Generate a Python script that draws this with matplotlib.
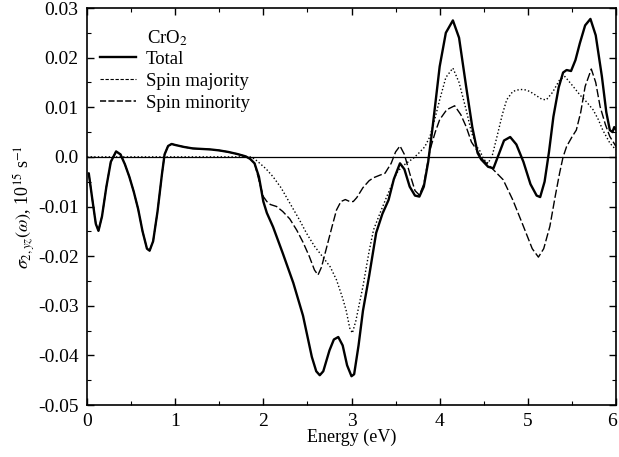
import matplotlib
matplotlib.use("Agg")
import matplotlib.pyplot as plt
from matplotlib.ticker import MultipleLocator, FuncFormatter
from matplotlib.lines import Line2D
from matplotlib.transforms import ScaledTranslation

plt.rcParams['font.family'] = ['Liberation Serif', 'DejaVu Serif']
plt.rcParams['mathtext.fontset'] = 'stix'
plt.rcParams['axes.unicode_minus'] = False

# Total
e_total = [0.02, 0.06, 0.10, 0.13, 0.17, 0.22, 0.27, 0.33, 0.38, 0.43, 0.48, 0.53, 0.58, 0.63,
           0.68, 0.71, 0.75, 0.80, 0.85, 0.88, 0.92, 0.96, 1.00, 1.1, 1.2, 1.3, 1.4, 1.5, 1.6,
           1.7, 1.8, 1.85, 1.9, 1.95, 2.0, 2.04, 2.11, 2.22, 2.34, 2.45, 2.55, 2.60, 2.64, 2.68,
           2.75, 2.80, 2.85, 2.90, 2.95, 3.00, 3.03, 3.08, 3.13, 3.20, 3.28, 3.35, 3.42, 3.48,
           3.55, 3.60, 3.66, 3.72, 3.77, 3.82, 3.87, 3.92, 4.00, 4.07, 4.15, 4.22, 4.30, 4.37,
           4.43, 4.47, 4.55, 4.61, 4.67, 4.73, 4.80, 4.87, 4.95, 5.03, 5.10, 5.14, 5.19, 5.24,
           5.29, 5.35, 5.40, 5.44, 5.49, 5.54, 5.59, 5.65, 5.71, 5.77, 5.84, 5.89, 5.93, 5.96,
           5.98, 6.00]
s_total = [-0.0033, -0.0085, -0.0135, -0.0149, -0.0120, -0.0060, -0.0010, 0.0011, 0.0005, -0.0015,
           -0.0040, -0.0070, -0.0105, -0.0150, -0.0185, -0.0189, -0.0170, -0.0110, -0.0035, 0.0005,
           0.0022, 0.0026, 0.0024, 0.0020, 0.0017, 0.0016, 0.0015, 0.0013, 0.0010, 0.0006, 0.0001,
           -0.0004, -0.0013, -0.0040, -0.0090, -0.0113, -0.0141, -0.0194, -0.0254, -0.0320, -0.0403,
           -0.0432, -0.0440, -0.0432, -0.0390, -0.0368, -0.0363, -0.0380, -0.0420, -0.0442, -0.0438,
           -0.0380, -0.0310, -0.0240, -0.0153, -0.0115, -0.0087, -0.0045, -0.0013, -0.0025, -0.0060,
           -0.0078, -0.0080, -0.0060, -0.0010, 0.0060, 0.0182, 0.0250, 0.0275, 0.0240, 0.0142,
           0.0060, 0.0008, -0.0005, -0.0020, -0.0023, 0.0005, 0.0033, 0.0040, 0.0025, -0.0010,
           -0.0055, -0.0078, -0.0081, -0.0050, 0.0010, 0.0081, 0.0140, 0.0170, 0.0175, 0.0173,
           0.0195, 0.0229, 0.0265, 0.0278, 0.0245, 0.0162, 0.0090, 0.0054, 0.0050, 0.0060, 0.0055]

# Spin majority (dotted)
e_major = [0.00, 0.5, 1.0, 1.5, 1.85, 1.90, 1.96, 2.03, 2.11, 2.20, 2.30, 2.41, 2.49, 2.58, 2.68,
           2.76, 2.83, 2.90, 2.94, 2.98, 3.01, 3.05, 3.09, 3.13, 3.20, 3.25, 3.32, 3.40, 3.46,
           3.51, 3.57, 3.62, 3.70, 3.76, 3.83, 3.89, 3.95, 4.00, 4.07, 4.15, 4.22, 4.30, 4.36,
           4.42, 4.46, 4.50, 4.55, 4.60, 4.66, 4.71, 4.76, 4.83, 4.91, 4.97, 5.02, 5.10, 5.16,
           5.21, 5.28, 5.36, 5.42, 5.50, 5.59, 5.67, 5.74, 5.80, 5.85, 5.93, 6.00]
s_major = [0.0, 0.0, 0.0, 0.0, 0.0, -0.0004, -0.0013, -0.0024, -0.0040, -0.0062, -0.0093, -0.0127,
           -0.0154, -0.0180, -0.0203, -0.0222, -0.0248, -0.0285, -0.0310, -0.0345, -0.0355, -0.0330,
           -0.0295, -0.0261, -0.0190, -0.0147, -0.0115, -0.0080, -0.0055, -0.0033, -0.0020, -0.0013,
           -0.0003, 0.0007, 0.0020, 0.0041, 0.0080, 0.0115, 0.0160, 0.0179, 0.0150, 0.0095, 0.0050,
           0.0021, 0.0011, -0.0005, -0.0013, 0.0005, 0.0048, 0.0085, 0.0115, 0.0132, 0.0136, 0.0135,
           0.0132, 0.0123, 0.0116, 0.0115, 0.0130, 0.0155, 0.0162, 0.0145, 0.0125, 0.0110, 0.0095,
           0.0075, 0.0054, 0.0028, 0.0014]

# Spin minority (dashed)
e_minor = [0.02, 0.06, 0.10, 0.13, 0.17, 0.22, 0.27, 0.33, 0.38, 0.43, 0.48, 0.53, 0.58, 0.63,
           0.68, 0.71, 0.75, 0.80, 0.85, 0.88, 0.92, 0.96, 1.00, 1.1, 1.2, 1.3, 1.4, 1.5, 1.6,
           1.7, 1.8, 1.85, 1.90, 1.96, 2.00, 2.04, 2.08, 2.15, 2.22, 2.30, 2.38, 2.45, 2.52, 2.58,
           2.62, 2.66, 2.72, 2.78, 2.83, 2.88, 2.93, 2.98, 3.02, 3.06, 3.13, 3.20, 3.25, 3.32,
           3.38, 3.45, 3.50, 3.55, 3.60, 3.66, 3.72, 3.77, 3.82, 3.89, 3.95, 4.00, 4.08, 4.17,
           4.24, 4.30, 4.36, 4.42, 4.49, 4.55, 4.61, 4.72, 4.83, 4.95, 5.05, 5.12, 5.18, 5.25,
           5.31, 5.36, 5.40, 5.44, 5.50, 5.55, 5.60, 5.65, 5.72, 5.77, 5.82, 5.88, 5.93, 6.00]
s_minor = [-0.0033, -0.0085, -0.0135, -0.0149, -0.0120, -0.0060, -0.0010, 0.0011, 0.0005, -0.0015,
           -0.0040, -0.0070, -0.0105, -0.0150, -0.0185, -0.0189, -0.0170, -0.0110, -0.0035, 0.0005,
           0.0022, 0.0026, 0.0024, 0.0020, 0.0017, 0.0016, 0.0015, 0.0013, 0.0010, 0.0006, 0.0001,
           -0.0004, -0.0012, -0.0054, -0.0080, -0.0090, -0.0096, -0.0100, -0.0110, -0.0125, -0.0148,
           -0.0172, -0.0200, -0.0228, -0.0238, -0.0222, -0.0181, -0.0140, -0.0107, -0.0090, -0.0086,
           -0.0090, -0.0090, -0.0082, -0.0062, -0.0048, -0.0042, -0.0037, -0.0033, -0.0013, 0.0010,
           0.0022, 0.0005, -0.0033, -0.0068, -0.0077, -0.0055, 0.0014, 0.0050, 0.0075, 0.0095,
           0.0103, 0.0085, 0.0061, 0.0030, 0.0014, -0.0006, -0.0016, -0.0026, -0.0046, -0.0087,
           -0.0140, -0.0185, -0.0202, -0.0185, -0.0140, -0.0080, -0.0033, 0.0000, 0.0021, 0.0040,
           0.0054, 0.0090, 0.0142, 0.0177, 0.0150, 0.0101, 0.0065, 0.0041, 0.0021]

x_ticks = [0, 1, 2, 3, 4, 5, 6]
y_tick_labels = {0.03: "0.03", 0.02: "0.02", 0.01: "0.01", 0.0: "0.0",
                 -0.01: "-0.01", -0.02: "-0.02", -0.03: "-0.03", -0.04: "-0.04", -0.05: "-0.05"}

fig = plt.figure(figsize=(6.19, 4.57), dpi=100)
ax = fig.add_axes([87/619, 1-405/457, (616-87)/619, (405-8)/457])

ax.axhline(0, color='black', lw=0.9, zorder=1)
ax.plot(e_total, s_total, color='black', lw=1.7, solid_capstyle='round', zorder=3)
ax.plot(e_major, s_major, color='black', lw=1.0, linestyle=(0, (1, 1.6)), zorder=2)
ax.plot(e_minor, s_minor, color='black', lw=1.0, linestyle=(0, (6, 2)), zorder=2)

ax.set_xlim(0, 6)
ax.set_ylim(-0.05, 0.03)
ax.set_xticks(x_ticks)
ax.xaxis.set_minor_locator(MultipleLocator(0.5))
ax.yaxis.set_major_locator(MultipleLocator(0.01))
ax.yaxis.set_minor_locator(MultipleLocator(0.005))

def yfmt(v, pos):
    for k, lab in y_tick_labels.items():
        if abs(v - k) < 1e-6:
            return lab
    return ""
ax.yaxis.set_major_formatter(FuncFormatter(yfmt))

ax.tick_params(which='both', direction='in', top=True, right=True, labelsize=14, colors='black')
ax.tick_params(which='major', length=5, width=1.0, pad=6)
ax.tick_params(which='minor', length=3, width=0.8)
for sp in ax.spines.values():
    sp.set_linewidth(1.2)

# nudge the last x tick label so it stays inside the canvas
last_tick = ax.xaxis.get_major_ticks()[-1]
last_tick.label1.set_transform(last_tick.label1.get_transform()
                               + ScaledTranslation(-4/100, 0, fig.dpi_scale_trans))

ax.set_xlabel("Energy (eV)", fontsize=13, labelpad=-1)
ax.set_ylabel(r"$\sigma_{2,yz}(\omega)$, 10$^{15}$ s$^{-1}$", fontsize=13, labelpad=1)

ax.text(0.113, 0.925, r"CrO$_2$", transform=ax.transAxes, fontsize=13.5, va='center', ha='left')
handles = [Line2D([], [], color='black', lw=1.7),
           Line2D([], [], color='black', lw=0.8, linestyle=(0, (3, 1.5))),
           Line2D([], [], color='black', lw=1.1, linestyle=(0, (4, 1.5)))]
ax.legend(handles, ["Total", "Spin majority", "Spin minority"], loc='upper left',
          bbox_to_anchor=(0.0, 0.925), frameon=False, fontsize=13.5, handlelength=1.9,
          handletextpad=0.55, labelspacing=0.25, borderaxespad=0.3)

fig.savefig("out.png", dpi=100)
